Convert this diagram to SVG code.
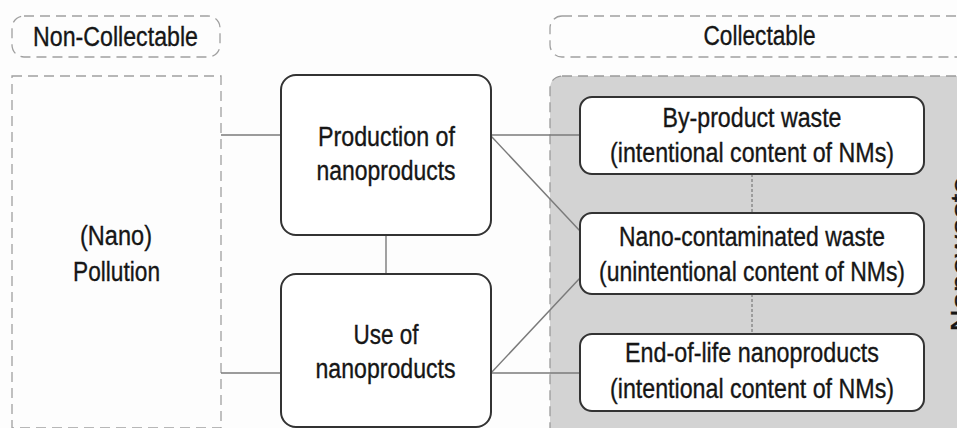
<svg xmlns="http://www.w3.org/2000/svg" width="957" height="428" viewBox="0 0 957 428">
<style>
text{font-family:"Liberation Sans",Arial,sans-serif;font-size:27px;fill:#161616;stroke:#161616;stroke-width:0.35;text-anchor:middle}
.grp{fill:#fdfdfd;stroke:#a0a0a0;stroke-width:1.3;stroke-dasharray:10,6}
.box{fill:#ffffff;stroke:#333333;stroke-width:2}
.con{stroke:#7a7a7a;stroke-width:1.4;fill:none}
.dash{stroke:#666;stroke-width:1;stroke-dasharray:3,2;fill:none}
</style>
<rect width="957" height="428" fill="#fdfdfd"/>
<g id="non-collectable">
<rect class="grp" x="12" y="16" width="208" height="41" rx="12"/>
<text x="115.5" y="46" textLength="165" lengthAdjust="spacingAndGlyphs">Non-Collectable</text>
</g>
<g id="collectable">
<rect class="grp" x="550" y="16" width="430" height="41" rx="12"/>
<text x="759.5" y="45" textLength="112" lengthAdjust="spacingAndGlyphs">Collectable</text>
</g>
<g id="pollution">
<rect class="grp" x="12" y="76" width="209" height="352"/>
<text x="116" y="245" textLength="72" lengthAdjust="spacingAndGlyphs">(Nano)</text>
<text x="116.5" y="281" textLength="87" lengthAdjust="spacingAndGlyphs">Pollution</text>
</g>
<g id="nanowaste">
<rect x="550" y="76" width="430" height="370" rx="12" fill="#d3d3d3" stroke="#9a9a9a" stroke-width="1.3" stroke-dasharray="10,6"/>
<text transform="translate(970,254) rotate(-90)" x="0" y="0" textLength="155" lengthAdjust="spacingAndGlyphs" font-size="28">Nanowaste</text>
</g>
<g id="connectors">
<line class="con" x1="221" y1="135" x2="281" y2="135"/>
<line class="con" x1="221" y1="373" x2="281" y2="373"/>
<line class="con" x1="386" y1="235" x2="386" y2="274"/>
<line class="con" x1="491" y1="135" x2="580" y2="135"/>
<line class="con" x1="491" y1="136" x2="580" y2="231"/>
<line class="con" x1="491" y1="373" x2="580" y2="278"/>
<line class="con" x1="491" y1="373" x2="580" y2="373"/>
<line class="dash" x1="752" y1="174" x2="752" y2="213"/>
<line class="dash" x1="752" y1="294" x2="752" y2="334"/>
</g>
<g id="production">
<rect class="box" x="281" y="75" width="210" height="160" rx="15"/>
<text x="386.5" y="146" textLength="137" lengthAdjust="spacingAndGlyphs">Production of</text>
<text x="386" y="180" textLength="139" lengthAdjust="spacingAndGlyphs">nanoproducts</text>
</g>
<g id="use">
<rect class="box" x="281" y="274" width="210" height="153" rx="15"/>
<text x="386" y="344" textLength="65" lengthAdjust="spacingAndGlyphs">Use of</text>
<text x="385.5" y="378" textLength="140" lengthAdjust="spacingAndGlyphs">nanoproducts</text>
</g>
<g id="by-product">
<rect class="box" x="580" y="97" width="344" height="77" rx="12"/>
<text x="752" y="127" textLength="179" lengthAdjust="spacingAndGlyphs">By-product waste</text>
<text x="752" y="162" textLength="284" lengthAdjust="spacingAndGlyphs">(intentional content of NMs)</text>
</g>
<g id="nano-contaminated">
<rect class="box" x="580" y="213" width="344" height="81" rx="12"/>
<text x="752" y="246" textLength="266" lengthAdjust="spacingAndGlyphs">Nano-contaminated waste</text>
<text x="752" y="281" textLength="306" lengthAdjust="spacingAndGlyphs">(unintentional content of NMs)</text>
</g>
<g id="end-of-life">
<rect class="box" x="580" y="334" width="344" height="77" rx="12"/>
<text x="752" y="362" textLength="254" lengthAdjust="spacingAndGlyphs">End-of-life nanoproducts</text>
<text x="752" y="398" textLength="284" lengthAdjust="spacingAndGlyphs">(intentional content of NMs)</text>
</g>
</svg>
